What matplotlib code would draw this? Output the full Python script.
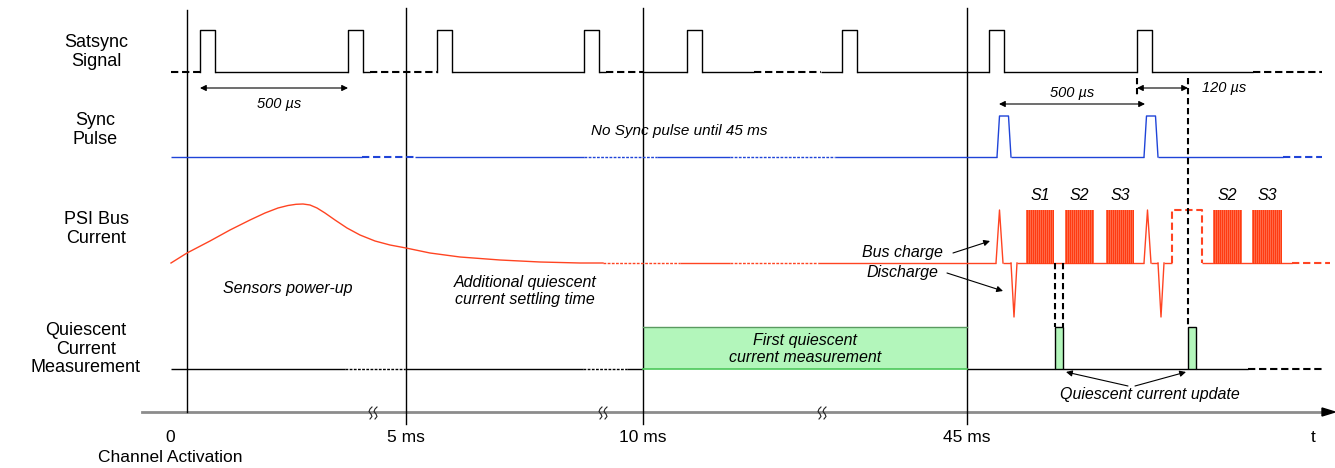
import numpy as np
import matplotlib.pyplot as plt
from matplotlib.patches import Rectangle

plt.rcParams['font.family'] = ['Liberation Sans', 'DejaVu Sans']

# time axis: reference instants (diagram x units)
marker_x = [187, 406, 643, 967]
marker_top = [10, 8, 8, 8]
marker_bottom = [412, 424, 424, 424]
tick_x = [170, 406, 643, 967, 1313]
tick_labels = ['0', '5 ms', '10 ms', '45 ms', 't']
break_x = [373, 603, 822]
axis_y = 412

row_labels = ['Satsync\nSignal', 'Sync\nPulse', 'PSI Bus\nCurrent',
              'Quiescent\nCurrent\nMeasurement']
row_label_x = [96, 95, 96, 86]
row_label_y = [52, 130, 229, 349]

# satsync signal
sat_low, sat_high = 72, 30
sat_pulses = [200, 348, 437, 584, 687, 842, 989, 1137]
sat_width = 15
sat_span = (171, 1322)
sat_dashed = [(171, 200), (370, 437), (606, 643), (754, 821), (1253, 1322)]

# sync pulse
sync_low, sync_high = 157, 116
sync_pulses = [997, 1144]
sync_shape = [0, 2.5, 11.5, 14]
sync_span = (171, 1322)
sync_dashed = [(362, 415), (1283, 1322)]
sync_fine = [(584, 657), (730, 835)]

# PSI bus current
psi_low, psi_high, psi_dip = 263, 210, 317
powerup_x = [171, 187, 210, 230, 250, 265, 278, 288, 296, 303, 310, 317,
             325, 335, 347, 360, 375, 390, 406, 430, 460, 500, 540, 580, 603]
powerup_y = [263, 253, 241, 230, 220, 213, 208, 205.5, 204.3, 204, 205, 208,
             213, 220, 228, 235, 241, 245, 248, 253, 257, 260, 262, 263, 263]
charge_x = [996, 1144]
discharge_x = [1011, 1158]
bursts = [(1026, 1054), (1065, 1094), (1106, 1134), (1213, 1242), (1252, 1282)]
burst_labels = ['S1', 'S2', 'S3', 'S2', 'S3']
psi_span = (603, 1330)
psi_fine = [(603, 680), (730, 818)]
psi_dashed = [(1292, 1330)]
resync = (1172, 1202)

# quiescent current measurement
q_low, q_high = 369, 327
q_span = (171, 1322)
q_fine = [(345, 405), (583, 627)]
q_dashed = [(1248, 1322)]
q_windows = [(643, 967), (1055, 1063), (1188, 1196)]

# dashed guide lines (x, y top, y bottom)
guides = [(1055, 263, 327), (1063, 263, 327), (1188, 78, 327), (1137, 78, 95)]

RED = '#ff4422'
BLUE = '#1f44d8'
GREEN = '#b3f6bb'

fig = plt.figure(figsize=(13.35, 4.68), dpi=100)
ax = fig.add_axes([0, 0, 1, 1])
ax.set_xlim(0, 1335)
ax.set_ylim(468, 0)
ax.axis('off')


def level(y, span, gaps=(), dashed=(), fine=(), color='k', lw=1.0):
    edges = {span[0], span[1]}
    for a, b in list(gaps) + list(dashed) + list(fine):
        edges.update([a, b])
    edges = sorted(e for e in edges if span[0] <= e <= span[1])

    def kind(m):
        if any(a < m < b for a, b in gaps):
            return None
        if any(a < m < b for a, b in dashed):
            return 'dash'
        if any(a < m < b for a, b in fine):
            return 'fine'
        return 'solid'

    runs = []
    for a, b in zip(edges[:-1], edges[1:]):
        k = kind((a + b) / 2)
        if runs and runs[-1][2] == k:
            runs[-1][1] = b
        else:
            runs.append([a, b, k])
    styles = {'solid': dict(ls='-', lw=lw),
              'dash': dict(ls=(0, (3.5, 1.8)), lw=lw * 1.5),
              'fine': dict(ls=(0, (2, 1)), lw=lw)}
    for a, b, k in runs:
        if k is None:
            continue
        ax.plot([a, b], [y, y], color=color, solid_capstyle='butt',
                dash_capstyle='butt', **styles[k])


# vertical markers and time axis
for x, t, b in zip(marker_x, marker_top, marker_bottom):
    ax.plot([x, x], [t, b], color='k', lw=1)
ax.plot([142, 1325], [axis_y, axis_y], color='#8c8c8c', lw=2, zorder=1)
ax.fill([1322, 1335, 1322], [axis_y - 4, axis_y, axis_y + 4], color='k')

# axis break marks: two small squiggles
squiggle_dx = [1.5, -0.5, -1.5, 0.5, 1.5, -0.5]
squiggle_dy = [-6, -4, -1.5, 1, 3.5, 6]
for x in break_x:
    for off in (-2.5, 2.5):
        ax.plot([x + off + d for d in squiggle_dx],
                [axis_y + 1 + d for d in squiggle_dy],
                color='#222222', lw=0.8, zorder=3)

for x, lab in zip(tick_x, tick_labels):
    ax.text(x, 438, lab, fontsize=12.5, ha='center', va='center')
ax.text(170, 457, 'Channel Activation', fontsize=12.5, ha='center', va='center')

for x, y, lab in zip(row_label_x, row_label_y, row_labels):
    ax.text(x, y, lab, fontsize=13, ha='center', va='center', linespacing=1.15)

# satsync
level(sat_low, sat_span, [(p, p + sat_width) for p in sat_pulses], sat_dashed)
for p in sat_pulses:
    ax.plot([p, p, p + sat_width, p + sat_width],
            [sat_low, sat_high, sat_high, sat_low], color='k', lw=1)

# sync pulse
level(sync_low, sync_span, [(p, p + sync_shape[-1]) for p in sync_pulses],
      sync_dashed, sync_fine, color=BLUE)
for p in sync_pulses:
    ax.plot([p + s for s in sync_shape],
            [sync_low, sync_high, sync_high, sync_low], color=BLUE, lw=1)

# PSI bus current
ax.plot(powerup_x, powerup_y, color=RED, lw=1)
psi_gaps = [(c, c + 7) for c in charge_x] + [(d, d + 6) for d in discharge_x]
psi_gaps += [resync]
level(psi_low, psi_span, psi_gaps, psi_dashed, psi_fine, color=RED)
for c in charge_x:
    ax.plot([c, c + 3.5, c + 7], [psi_low, psi_high, psi_low], color=RED, lw=1)
for d in discharge_x:
    ax.plot([d, d + 3, d + 6], [psi_low, psi_dip, psi_low], color=RED, lw=1)
ax.plot([resync[0], resync[0], resync[1], resync[1]],
        [psi_low, psi_high, psi_high, psi_low], color=RED, lw=1.5,
        ls=(0, (3.5, 1.8)))
for (a, b), lab in zip(bursts, burst_labels):
    ax.add_patch(Rectangle((a, psi_high), b - a, psi_low - psi_high,
                           facecolor='#ff6a48', edgecolor='none', zorder=2))
    for x in np.arange(a + 1, b, 2.0):
        ax.plot([x, x], [psi_high, psi_low], color='#ff3a10', lw=0.7, zorder=3)
    ax.text((a + b) / 2, 196, lab, fontsize=11.5, style='italic',
            ha='center', va='center')

# quiescent current measurement
level(q_low, q_span, q_windows, q_dashed, q_fine)
a, b = q_windows[0]
ax.add_patch(Rectangle((a, q_high), b - a, q_low - q_high,
                       facecolor=GREEN, edgecolor='none', zorder=1))
ax.plot([a, b], [q_high, q_high], color='#5a9a60', lw=1)
ax.plot([a, b], [q_low, q_low], color='#4cc85a', lw=1.2)
for a, b in q_windows[1:]:
    ax.add_patch(Rectangle((a, q_high), b - a, q_low - q_high,
                           facecolor=GREEN, edgecolor='k', lw=1, zorder=2))

for x, y0, y1 in guides:
    ax.plot([x, x], [y0, y1], color='k', lw=1.5, ls=(0, (3, 1.8)))

# annotations
arrow = dict(arrowstyle='<|-|>', color='k', lw=0.8, mutation_scale=9,
             shrinkA=0, shrinkB=0)
ax.annotate('', xy=(200, 88), xytext=(348, 88), arrowprops=arrow)
ax.annotate('', xy=(999, 104), xytext=(1145, 104), arrowprops=arrow)
ax.annotate('', xy=(1137, 88), xytext=(1188, 88), arrowprops=arrow)
ax.text(279, 104, '500 µs', fontsize=10.5, style='italic', ha='center', va='center')
ax.text(1072, 93, '500 µs', fontsize=10.5, style='italic', ha='center', va='center')
ax.text(1202, 88, '120 µs', fontsize=10.5, style='italic', ha='left', va='center')
ax.text(679, 131, 'No Sync pulse until 45 ms', fontsize=11, style='italic',
        ha='center', va='center')

one = dict(arrowstyle='-|>', color='k', lw=0.8, mutation_scale=9,
           shrinkA=0, shrinkB=0)
ax.text(943, 253, 'Bus charge', fontsize=11.5, style='italic', ha='right', va='center')
ax.annotate('', xy=(990, 241), xytext=(953, 253), arrowprops=one)
ax.text(938, 272, 'Discharge', fontsize=11.5, style='italic', ha='right', va='center')
ax.annotate('', xy=(1003, 291), xytext=(947, 273), arrowprops=one)

ax.text(288, 289, 'Sensors power-up', fontsize=11.5, style='italic',
        ha='center', va='center')
ax.text(525, 291, 'Additional quiescent\ncurrent settling time', fontsize=11.5,
        style='italic', ha='center', va='center', linespacing=1.15)
ax.text(805, 349, 'First quiescent\ncurrent measurement', fontsize=11.5,
        style='italic', ha='center', va='center', linespacing=1.15)
ax.text(1150, 395, 'Quiescent current update', fontsize=11.5, style='italic',
        ha='center', va='center')
ax.annotate('', xy=(1066, 372), xytext=(1128, 386), arrowprops=one)
ax.annotate('', xy=(1186, 372), xytext=(1135, 386), arrowprops=one)

fig.savefig('out.png', dpi=100)
